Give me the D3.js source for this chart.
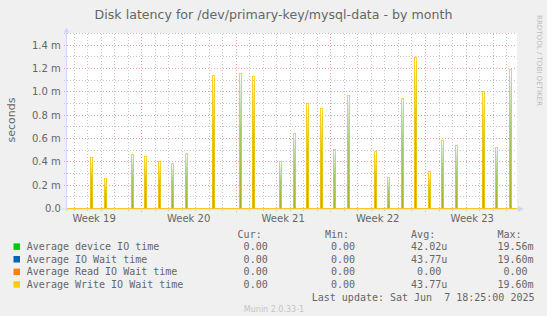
<!DOCTYPE html>
<html><head><meta charset="utf-8">
<script src="https://cdn.jsdelivr.net/npm/d3@7"></script>
<style>
html,body{margin:0;padding:0;background:#F0F0F0;}
svg{display:block;}
text{white-space:pre;}
</style></head><body>
<svg id="chart" width="547" height="316"></svg>
<script>
// ---------------- data ----------------
const title = "Disk latency for /dev/primary-key/mysql-data - by month";
const yAxisLabel = "seconds";
const sideText = "RRDTOOL / TOBI OETIKER";
const timeStart = "2025-05-05T10:00:00Z";
const timeEnd = "2025-06-07T19:30:00Z";
const spikeDates = [
  "2025-05-07T07:00:00Z","2025-05-08T07:00:00Z","2025-05-10T07:00:00Z","2025-05-11T07:00:00Z",
  "2025-05-12T07:00:00Z","2025-05-13T07:00:00Z","2025-05-14T07:00:00Z","2025-05-16T07:00:00Z",
  "2025-05-18T07:00:00Z","2025-05-19T07:00:00Z","2025-05-21T07:00:00Z","2025-05-22T07:00:00Z",
  "2025-05-23T07:00:00Z","2025-05-24T07:00:00Z","2025-05-25T07:00:00Z","2025-05-26T07:00:00Z",
  "2025-05-28T07:00:00Z","2025-05-29T07:00:00Z","2025-05-30T07:00:00Z","2025-05-31T07:00:00Z",
  "2025-06-01T07:00:00Z","2025-06-02T07:00:00Z","2025-06-03T07:00:00Z","2025-06-05T07:00:00Z",
  "2025-06-06T07:00:00Z","2025-06-07T07:00:00Z"];
// values in milliseconds
const writeWait  = [0.434,0.25,0.457,0.44,0.40,0.38,0.465,1.134,1.151,1.125,0.397,0.637,0.90,0.851,0.50,0.962,0.483,0.26,0.937,1.288,0.311,0.577,0.534,1.0,0.52,1.185];
const ioWait     = [0.434,0.25,0.457,0.44,0.40,0.38,0.465,1.134,1.151,1.125,0.397,0.637,0.90,0.851,0.50,0.962,0.483,0.26,0.937,1.288,0.311,0.577,0.534,1.0,0.52,1.185];
const readWait   = [0,0,0,0,0,0,0,0,0,0,0,0,0,0,0,0,0,0,0,0,0,0,0,0,0,0];
const deviceTime = [0.415,0.24,0.44,0.42,0.385,0.365,0.445,1.09,1.10,1.08,0.38,0.61,0.865,0.815,0.48,0.92,0.465,0.25,0.90,1.235,0.30,0.555,0.51,0.96,0.50,1.135];
const yMax = 1.5;
const yMajorTicks = [0,0.2,0.4,0.6,0.8,1.0,1.2,1.4];
const yMinorTicks = [0.1,0.3,0.5,0.7,0.9,1.1,1.3,1.5];
const yTickLabels = ["0.0","0.2 m","0.4 m","0.6 m","0.8 m","1.0 m","1.2 m","1.4 m"];
const weekStarts = ["2025-05-04T00:00:00Z","2025-05-11T00:00:00Z","2025-05-18T00:00:00Z","2025-05-25T00:00:00Z","2025-06-01T00:00:00Z"];
const weekLabels = ["Week 19","Week 20","Week 21","Week 22","Week 23"];
const legendNames = ["Average device IO time","Average IO Wait time","Average Read IO Wait time","Average Write IO Wait time"];
const legendColors = ["#00CC00","#0066B3","#FF8000","#FFCC00"];
const legendHeaders = ["Cur:","Min:","Avg:","Max:"];
const legendCur = ["0.00","0.00","0.00","0.00"];
const legendMin = ["0.00","0.00","0.00","0.00"];
const legendAvg = ["42.02u","43.77u","0.00","43.77u"];
const legendMax = ["19.56m","19.60m","0.00","19.60m"];
const lastUpdate = "Last update: Sat Jun  7 18:25:00 2025";
const footer = "Munin 2.0.33-1";

// ---------------- layout ----------------
const W = 547, H = 316;
const plot = {left: 66, right: 517, top: 33.5, bottom: 208.5};
const fontColor = "#666666";
const axisColor = "#CFD6F8";

const svg = d3.select("#chart");
svg.append("rect").attr("width", W).attr("height", H).attr("fill", "#F0F0F0");

const x = d3.scaleUtc().domain([new Date(timeStart), new Date(timeEnd)]).range([plot.left, plot.right]);
const y = d3.scaleLinear().domain([0, yMax]).range([plot.bottom, plot.top]);
const xs = t => Math.round(x(t)); // pixel-snapped x

// canvas
svg.append("rect").attr("x", plot.left).attr("y", plot.top - 0.5)
  .attr("width", plot.right - plot.left).attr("height", plot.bottom - plot.top + 0.5).attr("fill", "#FFFFFF");

// grid
const grid = svg.append("g").attr("shape-rendering", "crispEdges");
const days = d3.utcDay.range(x.domain()[0], x.domain()[1]);
const sundays = d3.utcSunday.range(x.domain()[0], x.domain()[1]);
const isSunday = d => d.getUTCDay() === 0;
const ySnap = v => Math.round(y(v) - 0.5) + 0.5;
grid.selectAll(".vmin").data(days.filter(d => !isSunday(d))).join("line")
  .attr("x1", d => xs(d) + 0.5).attr("x2", d => xs(d) + 0.5)
  .attr("y1", plot.top).attr("y2", plot.bottom + 2.5)
  .attr("stroke", "#c4c4c4").attr("stroke-dasharray", "1,2");
grid.selectAll(".hmin").data(yMinorTicks).join("line")
  .attr("x1", plot.left - 2).attr("x2", plot.right)
  .attr("y1", d => ySnap(d)).attr("y2", d => ySnap(d))
  .attr("stroke", "#c4c4c4").attr("stroke-dasharray", "1,2");
grid.selectAll(".hmaj").data(yMajorTicks.filter(d => d > 0)).join("line")
  .attr("x1", plot.left - 2).attr("x2", plot.right)
  .attr("y1", d => ySnap(d)).attr("y2", d => ySnap(d))
  .attr("stroke", "#eca0a0").attr("stroke-dasharray", "1,2");
grid.selectAll(".vmaj").data(sundays).join("line")
  .attr("x1", d => xs(d) + 0.5).attr("x2", d => xs(d) + 0.5)
  .attr("y1", plot.top).attr("y2", plot.bottom + 3.5)
  .attr("stroke", "#eca0a0").attr("stroke-dasharray", "1,2");

// gradient for spikes
const defs = svg.append("defs");
const grad = defs.append("linearGradient").attr("id", "spikeGrad")
  .attr("x1", 0).attr("y1", 0).attr("x2", 0).attr("y2", 1);
[[0, "#f2f9ec"], [0.12, "#d2eabc"], [0.4, "#a2cb70"], [0.75, "#a6bb3c"], [1, "#b0ae22"]]
  .forEach(([o, c]) => grad.append("stop").attr("offset", o).attr("stop-color", c));

// series geometry: each spike is a 3px column group (edge | fill | edge)
function spikePoints(vals) {
  const pts = [{t: new Date(timeStart), v: 0, dx: 0}];
  spikeDates.forEach((s, i) => {
    const t = new Date(s);
    pts.push({t, v: 0, dx: -0.5}, {t, v: vals[i], dx: -0.5},
             {t, v: vals[i], dx: 1.5}, {t, v: 0, dx: 1.5});
  });
  pts.push({t: new Date(timeEnd), v: 0, dx: 0});
  return pts;
}
const line = d3.line().x(d => xs(d.t) + d.dx).y(d => y(d.v) - 0.5);
const area = d3.area().x(d => xs(d.t) + d.dx).y0(y(0)).y1(d => y(d.v));

// device IO time spikes (gradient fill, 3 px wide)
svg.append("g").selectAll("path").data(spikeDates.map((s, i) => {
  const t = new Date(s);
  return [{t, v: deviceTime[i], dx: -1}, {t, v: deviceTime[i], dx: 2}];
})).join("path").attr("d", area).attr("fill", "url(#spikeGrad)");

// x axis line
svg.append("line").attr("x1", plot.left - 4).attr("x2", plot.right + 2)
  .attr("y1", plot.bottom + 0.5).attr("y2", plot.bottom + 0.5).attr("stroke", axisColor);

const lines = svg.append("g").attr("fill", "none").attr("stroke-width", 1).attr("shape-rendering", "crispEdges");
lines.append("path").attr("d", line(spikePoints(ioWait))).attr("stroke", legendColors[1]).attr("stroke-opacity", 0.15);
lines.append("path").attr("d", line(spikePoints(readWait))).attr("stroke", legendColors[2]).attr("stroke-opacity", 0.3);
lines.append("path").attr("d", line(spikePoints(writeWait))).attr("stroke", legendColors[3]).attr("stroke-opacity", 0.8);

// y axis & arrows
svg.append("line").attr("x1", plot.left + 0.5).attr("x2", plot.left + 0.5)
  .attr("y1", plot.bottom + 3).attr("y2", plot.top - 2).attr("stroke", axisColor);
svg.append("path").attr("d", `M${plot.left - 2.5},${plot.top - 1}L${plot.left + 0.5},${plot.top - 6}L${plot.left + 3.5},${plot.top - 1}Z`).attr("fill", axisColor);
svg.append("path").attr("d", `M${plot.right + 1},${plot.bottom - 2.5}L${plot.right + 7},${plot.bottom + 0.5}L${plot.right + 1},${plot.bottom + 3.5}Z`).attr("fill", axisColor);

// y tick labels
svg.append("g").selectAll("text").data(yMajorTicks).join("text")
  .attr("x", 60.8).attr("y", d => y(d)).attr("dy", "0.36em")
  .attr("text-anchor", "end").attr("fill", fontColor)
  .style("font", "10px 'DejaVu Sans'")
  .text((d, i) => yTickLabels[i]);

// week labels
svg.append("g").selectAll("text").data(weekStarts).join("text")
  .attr("x", d => x(new Date(+new Date(d) + 3.5 * 86400000)))
  .attr("y", 221.5).attr("text-anchor", "middle").attr("fill", fontColor)
  .style("font", "10px 'DejaVu Sans'")
  .text((d, i) => weekLabels[i]);

// title
svg.append("text").attr("x", 273.5).attr("y", 19).attr("text-anchor", "middle")
  .attr("fill", fontColor).style("font", "12.6px 'DejaVu Sans'").text(title);

// y axis label
svg.append("text").attr("transform", "translate(15,120) rotate(-90)")
  .attr("text-anchor", "middle").attr("fill", fontColor)
  .style("font", "11px 'DejaVu Sans'").text(yAxisLabel);

// side text
svg.append("text").attr("transform", "translate(537.3,15) rotate(90)")
  .attr("fill", "#bcbcbc").style("font", "7.1px 'DejaVu Sans'")
  .attr("textLength", 91).attr("lengthAdjust", "spacingAndGlyphs").text(sideText);

// legend
const mono = "10px 'DejaVu Sans Mono'";
const rowY = [250.2, 262.8, 275.4, 288];
const fieldX = [237.6, 324.9, 411.1, 497.4];
const lg = svg.append("g");
lg.selectAll(".hdr").data(legendHeaders).join("text")
  .attr("x", (d, i) => fieldX[i]).attr("y", 237.9).attr("fill", fontColor).style("font", mono).text(d => d);
lg.selectAll("rect").data(legendColors).join("rect")
  .attr("x", 13.5).attr("y", (d, i) => rowY[i] - 6.8).attr("width", 6.5).attr("height", 6.5).attr("fill", d => d);
lg.selectAll(".name").data(legendNames).join("text")
  .attr("x", 26.8).attr("y", (d, i) => rowY[i]).attr("fill", fontColor).style("font", mono).text(d => d);
function fmt(v) {
  const last = v.slice(-1);
  const hasUnit = /[a-zA-Z]/.test(last);
  const num = hasUnit ? v.slice(0, -1) : v;
  return num.padStart(5, " ") + (hasUnit ? last : " ");
}
[legendCur, legendMin, legendAvg, legendMax].forEach((col, c) => {
  lg.append("g").selectAll("text").data(col).join("text")
    .attr("x", fieldX[c]).attr("y", (d, i) => rowY[i]).attr("fill", fontColor)
    .style("font", mono).text(d => fmt(d));
});
lg.append("text").attr("x", 534.5).attr("y", 300.6).attr("text-anchor", "end")
  .attr("fill", fontColor).style("font", mono).text(lastUpdate);
svg.append("text").attr("x", 274).attr("y", 312).attr("text-anchor", "middle")
  .attr("fill", "#c4c4c4").style("font", "8px 'DejaVu Sans'").text(footer);
</script>
</body></html>
